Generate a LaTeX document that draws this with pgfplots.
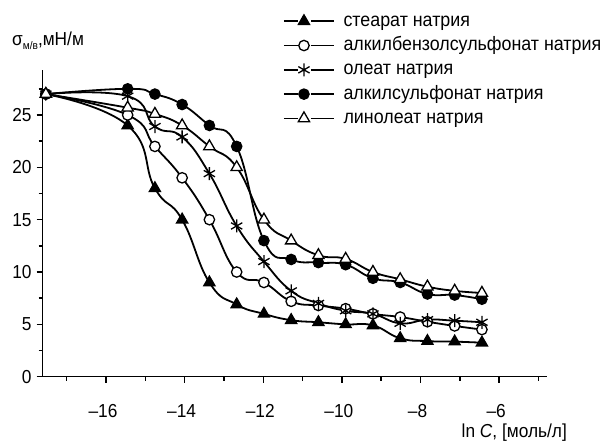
\documentclass[border=0pt]{standalone}
\usepackage{fontspec}
\setmainfont{Liberation Sans}[FakeStretch=0.92]
\usepackage{pgfplots}
\pgfplotsset{compat=1.18}
\usepackage{pgfplotstable}

\pgfplotstableread{
x stear benz oleat sulf linol
-17.53 27.0 27.0 27.0 27.0 27.0
-15.449 24.0 25.0 26.8 27.5 25.7
-14.756 18.0 22.0 23.9 27.0 25.1
-14.063 15.0 19.0 22.9 26.0 24.0
-13.370 9.0 15.0 19.4 24.0 22.0
-12.676 6.9 10.0 14.4 22.0 20.0
-11.983 6.0 9.0 11.0 13.0 15.0
-11.290 5.4 7.2 8.2 11.2 13.0
-10.597 5.2 6.8 7.0 10.9 11.6
-9.904 5.0 6.5 6.3 10.7 11.25
-9.210 4.9 6.0 6.0 9.4 10.0
-8.517 3.67 5.7 5.1 9.0 9.3
-7.824 3.4 5.25 5.45 7.9 8.6
-7.131 3.35 4.85 5.35 7.8 8.2
-6.438 3.25 4.5 5.2 7.4 8.0
}\datatable

\begin{document}
\fontsize{18.8bp}{22bp}\selectfont
\begin{tikzpicture}
\useasboundingbox (0bp,0bp) rectangle (606bp,442bp);
\begin{axis}[
  at={(42.7bp,65.3bp)}, anchor=south west,
  scale only axis, width=504bp, height=306.7bp,
  xmin=-17.61, xmax=-4.79, ymin=0, ymax=29.3,
  axis lines=left,
  axis line style={-, line width=1.5bp, black},
  tick align=outside,
  major tick length=6bp, minor tick length=4bp,
  every tick/.style={line width=1.5bp, black},
  xtick={-16,-14,-12,-10,-8,-6},
  xticklabels={–16,–14,–12,–10,–8,–6},
  minor xtick={-17,-15,-13,-11,-9,-7,-5},
  ytick={0,5,10,15,20,25},
  yticklabels={0,5,10,15,20,25},
  minor ytick={2.5,7.5,12.5,17.5,22.5,27.5},
  xticklabel style={anchor=base, inner sep=0pt, yshift=-35bp, xshift=-3bp},
  yticklabel style={anchor=east, inner sep=0pt, xshift=-5bp},
  clip=false,
  every axis plot/.append style={line width=1.8bp, black, smooth, tension=0.8},
  legend cell align=left,
  legend style={draw=none, fill=none, at={(0.4768,1.189)}, anchor=north west,
    inner sep=0pt, row sep=6.3bp,
    font=\fontsize{19.4bp}{22bp}\selectfont,
    nodes={inner sep=0pt, text height=14bp, text depth=4bp}},
  legend image code/.code={
    \draw[#1, mark=none, line width=1.5bp] (0bp,0bp) -- (14bp,0bp);
    \draw[#1, mark=none, line width=1.5bp] (27bp,0bp) -- (50bp,0bp);
    \draw[#1, only marks] plot coordinates {(20bp,0bp)};
    \path (58.7bp,0bp);
  },
]
\addplot[mark=triangle*, mark size=6.5bp, mark options={solid, fill=black, line width=1.2bp}] table[x=x, y=stear] {\datatable};
\addlegendentry{стеарат натрия}
\addplot[mark=*, mark size=5.2bp, mark options={solid, fill=white, line width=1.3bp}] table[x=x, y=benz] {\datatable};
\addlegendentry{алкилбензолсульфонат натрия}
\addplot[mark=asterisk, mark size=6.5bp, mark options={solid, line width=1.3bp}] table[x=x, y=oleat] {\datatable};
\addlegendentry{олеат натрия}
\addplot[mark=*, mark size=5.2bp, mark options={solid, fill=black, line width=1.2bp}] table[x=x, y=sulf] {\datatable};
\addlegendentry{алкилсульфонат натрия}
\addplot[mark=triangle*, mark size=6.5bp, mark options={solid, fill=white, line width=1.3bp}] table[x=x, y=linol] {\datatable};
\addlegendentry{линолеат натрия}
\end{axis}
\node[anchor=base west, inner sep=0pt] at (12bp,396bp) {σ\raisebox{-3.5bp}{\fontsize{11bp}{11bp}\selectfont м/в},мН/м};
\node[anchor=base east, inner sep=0pt] at (567bp,4.5bp) {ln \textit{C}, [моль/л]};
\end{tikzpicture}
\end{document}
